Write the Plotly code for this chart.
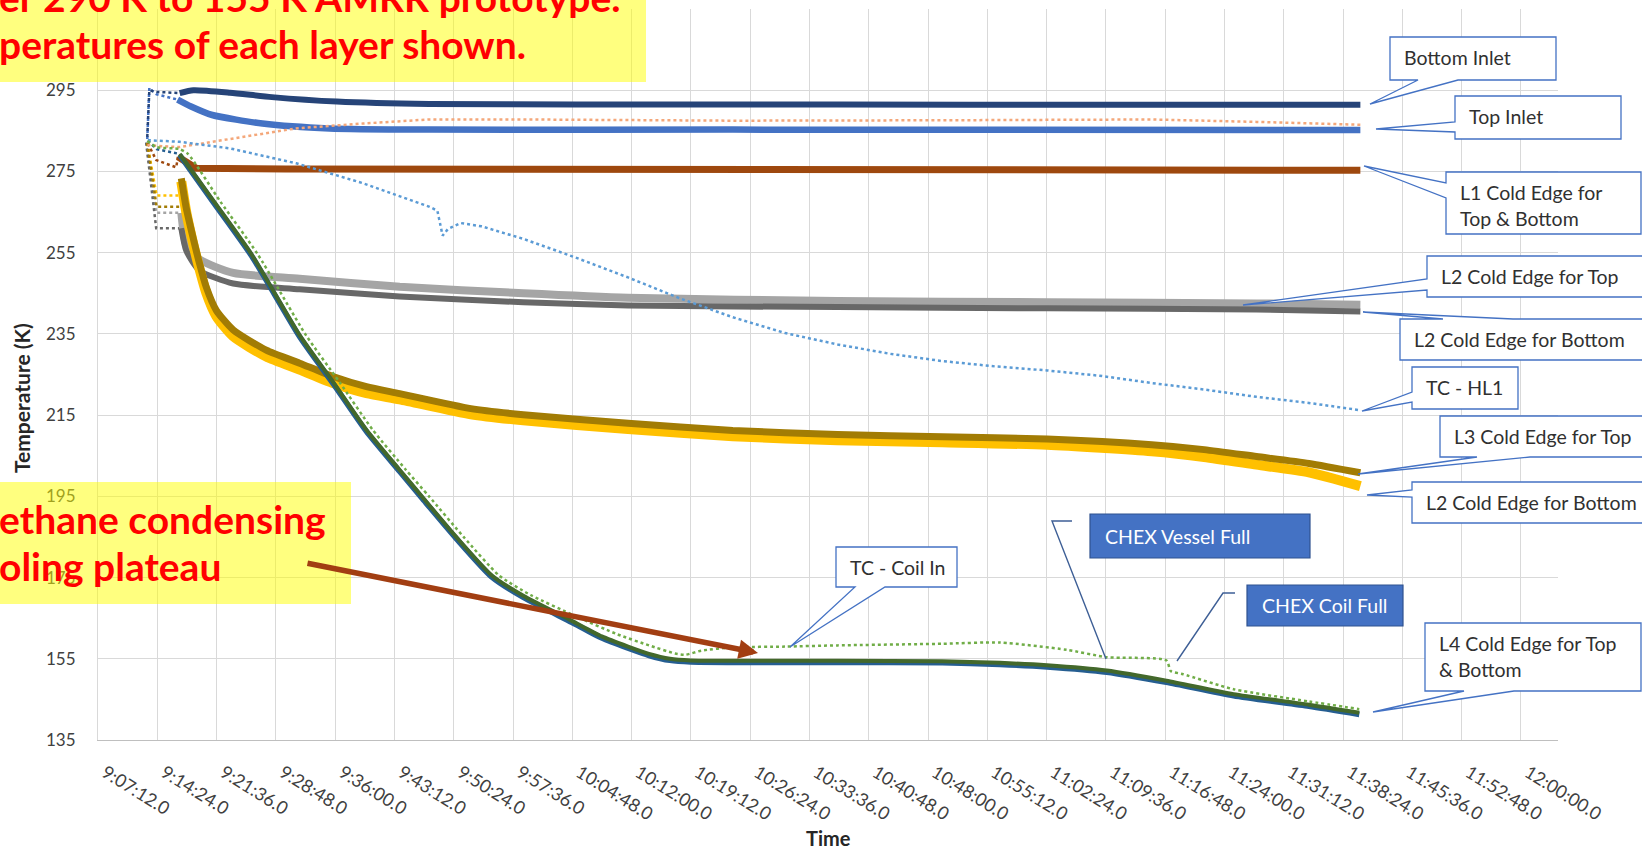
import plotly.graph_objects as go

DAY = "2021-03-01 "

# ---------------- data (time of day, temperature in K) ----------------
bottom_inlet_early_t = ["09:13:11", "09:13:26", "09:13:49", "09:14:19", "09:17:07"]
bottom_inlet_early_v = [283.5, 295.0, 294.8, 294.6, 294.3]
bottom_inlet_t = ["09:17:07", "09:18:47", "09:23:14", "09:28:19", "09:36:12", "09:47:24",
                  "10:05:12", "10:37:01", "11:08:49", "11:40:30"]
bottom_inlet_v = [294.3, 295.0, 294.4, 293.3, 292.2, 291.6, 291.5, 291.5, 291.4, 291.4]

top_inlet_early_t = ["09:13:11", "09:13:26", "09:13:49", "09:14:19", "09:16:52"]
top_inlet_early_v = [283.0, 295.6, 294.8, 294.0, 292.7]
top_inlet_t = ["09:16:52", "09:18:30", "09:21:04", "09:27:10", "09:35:19", "09:47:24",
               "10:24:17", "11:40:30"]
top_inlet_v = [292.7, 291.0, 288.9, 286.8, 285.6, 285.3, 285.3, 285.2]

orange_t = ["09:13:11", "09:14:19", "09:17:07", "09:23:14", "09:31:14", "09:39:23", "09:47:24",
            "09:58:51", "10:24:17", "10:49:44", "11:15:10", "11:27:53", "11:40:30"]
orange_v = [281.5, 281.3, 281.0, 283.0, 285.6, 286.8, 287.8, 287.8, 287.5, 287.6, 287.8, 287.2, 286.5]

l1_early_t = ["09:13:15", "09:14:16", "09:16:42", "09:16:54"]
l1_early_v = [281.9, 277.8, 276.0, 278.6]
l1_t = ["09:16:54", "09:19:08", "09:30:00", "10:30:00", "11:40:30"]
l1_v = [278.6, 275.8, 275.6, 275.4, 275.3]

hl1_t = ["09:13:15", "09:17:06", "09:23:11", "09:31:17", "09:39:23", "09:47:28", "09:48:25",
         "09:49:03", "09:49:41", "09:51:13", "09:53:45", "09:58:51", "10:05:12", "10:11:34",
         "10:17:56", "10:24:17", "10:30:39", "10:37:01", "10:43:22", "10:49:44", "10:56:06",
         "11:02:27", "11:08:49", "11:15:10", "11:21:32", "11:27:53", "11:34:15", "11:40:30"]
hl1_v = [282.7, 282.3, 280.7, 277.0, 272.1, 266.3, 265.3, 259.2, 260.8, 262.3, 261.5, 258.4,
         253.8, 248.9, 243.7, 239.1, 235.2, 232.4, 230.1, 228.3, 227.0, 226.0, 224.7, 222.9,
         221.3, 219.5, 218.0, 216.2]

l2_top_early_t = ["09:13:03", "09:14:16", "09:17:19"]
l2_top_early_v = [282.1, 264.8, 264.8]
l2_top_t = ["09:17:19", "09:17:55", "09:19:32", "09:23:37", "09:31:41", "09:43:50", "09:58:51",
            "10:11:34", "10:37:01", "11:02:27", "11:27:53", "11:40:30"]
l2_top_v = [264.8, 257.0, 253.3, 250.0, 248.6, 246.6, 245.0, 243.9, 243.1, 242.8, 242.5, 242.2]

l2_bot_early_t = ["09:13:03", "09:14:16", "09:17:19"]
l2_bot_early_v = [282.1, 261.0, 261.0]
l2_bot_t = l2_top_t
l2_bot_v = [261.0, 255.5, 250.6, 247.4, 246.0, 244.2, 242.8, 242.0, 241.6, 241.3, 241.0, 240.5]

l3_top_early_t = ["09:13:11", "09:14:19", "09:17:11"]
l3_top_early_v = [282.0, 266.3, 266.3]
l3_bot_early_t = ["09:13:11", "09:14:19", "09:17:11"]
l3_bot_early_v = [282.0, 269.1, 269.1]
l3_t = ["09:17:19", "09:17:55", "09:18:44", "09:19:32", "09:20:21", "09:21:34", "09:23:37",
        "09:27:38", "09:31:41", "09:35:44", "09:39:48", "09:43:50", "09:52:29", "09:58:51",
        "10:11:34", "10:24:17", "10:37:01", "10:49:44", "11:02:27", "11:15:10", "11:21:32",
        "11:27:53", "11:34:15", "11:40:30"]
l3_top_v = [273.3, 266.0, 258.8, 252.3, 246.5, 240.8, 236.0, 231.0, 227.8, 224.5, 222.0, 220.3,
            216.6, 215.1, 213.0, 211.2, 210.2, 209.7, 209.1, 207.7, 206.5, 204.8, 203.1, 200.8]
l3_bot_v = [272.5, 265.0, 257.4, 250.9, 245.1, 239.4, 234.4, 229.4, 226.2, 222.9, 220.4, 218.9,
            215.2, 213.7, 211.6, 209.8, 208.8, 208.3, 207.7, 206.1, 204.7, 202.8, 200.9, 197.5]

l4_early_t = ["09:13:15", "09:14:19", "09:17:07"]
l4_early_v = [282.6, 280.5, 279.3]
l4_t = ["09:17:07", "09:21:19", "09:25:49", "09:31:41", "09:35:44", "09:39:47", "09:43:50",
        "09:46:31", "09:50:42", "09:55:02", "09:58:51", "10:04:42", "10:08:23", "10:11:34",
        "10:14:07", "10:16:39", "10:19:12", "10:24:17", "10:37:01", "10:49:44", "10:56:44",
        "11:02:27", "11:09:42", "11:16:57", "11:25:06", "11:34:15", "11:40:22"]
l4_green_v = [279.3, 267.5, 254.7, 234.7, 223.2, 211.4, 201.5, 195.0, 185.0, 175.5, 170.5,
              164.4, 160.5, 158.0, 156.2, 155.0, 154.6, 154.5, 154.5, 154.4, 154.0, 153.4,
              152.1, 149.6, 146.3, 143.7, 141.7]
l4_blue_v = [279.0, 267.1, 254.3, 234.3, 222.8, 211.0, 201.1, 194.6, 184.6, 175.1, 170.1,
             164.0, 160.1, 157.6, 155.8, 154.6, 154.2, 154.1, 154.1, 154.0, 153.6, 153.0,
             151.7, 149.2, 145.9, 143.3, 141.3]

coil_t = ["09:13:11", "09:14:19", "09:17:07", "09:18:08", "09:22:05", "09:26:34", "09:32:27",
          "09:36:30", "09:40:33", "09:44:36", "09:47:24", "09:51:36", "09:55:55", "09:59:44",
          "10:05:12", "10:10:18", "10:14:07", "10:17:17", "10:18:34", "10:20:28", "10:24:17",
          "10:30:39", "10:37:01", "10:49:44", "10:56:44", "11:04:52", "11:09:42", "11:16:57",
          "11:17:28", "11:18:59", "11:25:06", "11:34:15", "11:40:22"]
coil_v = [282.5, 281.0, 280.5, 279.3, 267.5, 254.7, 234.7, 223.2, 211.4, 201.5, 195.0, 185.0,
          175.5, 170.7, 165.5, 161.0, 158.3, 156.3, 156.0, 157.0, 157.8, 158.0, 158.3, 158.7,
          159.0, 157.2, 155.4, 154.6, 152.0, 151.2, 147.5, 144.5, 142.6]


def T(lst):
    return [DAY + s for s in lst]


# ---------------- page geometry helpers ----------------
W, H = 1642, 851
ML, MR, MT, MB = 98, 84, 9, 111
PW, PH = W - ML - MR, H - MT - MB


def px(x):
    return (x - ML) / PW


def py(y):
    return 1 - (y - MT) / PH


FONT = "Lato, 'Open Sans', sans-serif"

fig = go.Figure()


def band(t, v, color, width, shape="spline"):
    fig.add_trace(go.Scatter(x=T(t), y=v, mode="lines", hoverinfo="skip",
                             line=dict(color=color, width=width, shape=shape, smoothing=0.6)))


def dotted(t, v, color, width=2.5, shape="linear"):
    fig.add_trace(go.Scatter(x=T(t), y=v, mode="lines", hoverinfo="skip",
                             line=dict(color=color, width=width, dash="dot", shape=shape,
                                       smoothing=0.6)))


C_NAVY = "#264478"
C_BLUE = "#4472C4"
C_ORANGE = "#F4A77A"
C_BROWN = "#9E480E"
C_HL1 = "#5B9BD5"
C_LGRAY = "#A5A5A5"
C_DGRAY = "#686868"
C_DGOLD = "#A27C04"
C_GOLD = "#FFC000"
C_L4B = "#255E91"
C_L4G = "#43682B"
C_COIL = "#70AD47"

# early (sparse) segments
dotted(l2_top_early_t, l2_top_early_v, C_LGRAY)
dotted(l2_bot_early_t, l2_bot_early_v, C_DGRAY)
dotted(l3_bot_early_t, l3_bot_early_v, C_GOLD)
dotted(l3_top_early_t, l3_top_early_v, C_DGOLD)
dotted(l1_early_t, l1_early_v, C_BROWN)
dotted(l4_early_t, l4_early_v, C_L4B)
dotted(top_inlet_early_t, top_inlet_early_v, C_BLUE)
dotted(bottom_inlet_early_t, bottom_inlet_early_v, C_NAVY)

# dense bands
band(l2_top_t, l2_top_v, C_LGRAY, 8)
band(l2_bot_t, l2_bot_v, C_DGRAY, 6)
band(l3_t, l3_bot_v, C_GOLD, 10)
band(l3_t, l3_top_v, C_DGOLD, 7)
band(l1_t, l1_v, C_BROWN, 7, "linear")
band(top_inlet_t, top_inlet_v, C_BLUE, 6.5)
band(bottom_inlet_t, bottom_inlet_v, C_NAVY, 6)
band(l4_t, l4_blue_v, C_L4B, 5.5)
band(l4_t, l4_green_v, C_L4G, 4)

# thin dotted sensors
dotted(orange_t, orange_v, C_ORANGE, 2.5)
dotted(hl1_t, hl1_v, C_HL1, 2.5)
dotted(coil_t, coil_v, C_COIL, 2.5, "spline")

shapes = []
annotations = []

# semi-transparent yellow text boxes
for (x0, y0, x1, y1) in [(0, 0, 646, 82), (0, 482, 351, 604)]:
    shapes.append(dict(type="rect", xref="paper", yref="paper", x0=px(x0), x1=px(x1),
                       y0=py(y1), y1=py(y0), fillcolor="rgba(255,255,0,0.5)",
                       line=dict(width=0), layer="above"))

RED_LINES = [("er 290 K to 155 K AMRR prototype.", -3, -3),
             ("peratures of each layer shown.", -3, 44),
             ("ethane condensing", -3, 519),
             ("oling plateau", -3, 566)]
for txt, x, yc in RED_LINES:
    annotations.append(dict(text="<b>" + txt + "</b>", x=px(x), y=py(yc), xref="paper",
                            yref="paper", xanchor="left", yanchor="middle", showarrow=False,
                            font=dict(family=FONT, size=39, color="#FF0000")))

# arrow
annotations.append(dict(text="", x=px(758), y=py(653), xref="paper", yref="paper",
                        ax=306 - 758, ay=563 - 653, axref="pixel", ayref="pixel",
                        showarrow=True, arrowhead=2, arrowsize=0.7, arrowwidth=5.5,
                        arrowcolor="#A23E12", standoff=0))


def P(x, y):
    return "%.5f,%.5f" % (px(x), py(y))


def callout_path(box, side, base, tip):
    x0, y0, x1, y1 = box
    b1, b2 = base
    if side == "bottom":
        pts = [(x0, y0), (x1, y0), (x1, y1), (b2, y1), tip, (b1, y1), (x0, y1)]
    elif side == "left":
        pts = [(x0, y0), (x1, y0), (x1, y1), (x0, y1), (x0, b2), tip, (x0, b1)]
    else:  # top
        pts = [(x0, y0), (b1, y0), tip, (b2, y0), (x1, y0), (x1, y1), (x0, y1)]
    return "M " + " L ".join(P(*p) for p in pts) + " Z"


CALLOUTS = [
    (["Bottom Inlet"], (1390, 37, 1556, 80), "bottom", (1418, 1458), (1370, 104)),
    (["Top Inlet"], (1455, 96, 1621, 139), "left", (122, 132), (1376, 129)),
    (["L1 Cold Edge for", "Top & Bottom"], (1446, 172, 1641, 234), "left", (183, 198), (1364, 166)),
    (["L2 Cold Edge for Top"], (1427, 256, 1652, 297), "left", (279, 290), (1243, 305)),
    (["L2 Cold Edge for Bottom"], (1400, 319, 1652, 360), "top", (1443, 1513), (1363, 312)),
    (["TC - HL1"], (1412, 367, 1518, 409), "left", (392, 402), (1362, 411)),
    (["L3 Cold Edge for Top"], (1440, 416, 1652, 457), "bottom", (1477, 1530), (1358, 474)),
    (["L2 Cold Edge for Bottom"], (1412, 482, 1652, 523), "left", (490, 497), (1367, 495)),
    (["TC - Coil In"], (836, 547, 957, 587), "bottom", (855, 885), (790, 647)),
    (["L4 Cold Edge for Top", "& Bottom"], (1425, 623, 1641, 691), "bottom", (1464, 1514), (1373, 712)),
]

for lines, box, side, base, tip in CALLOUTS:
    shapes.append(dict(type="path", xref="paper", yref="paper",
                       path=callout_path(box, side, base, tip), fillcolor="white",
                       line=dict(color="#4472C4", width=1.3), layer="above"))
    for i, ln in enumerate(lines):
        annotations.append(dict(text=ln, x=px(box[0] + 12), y=py(box[1] + 20 + 26 * i),
                                xref="paper", yref="paper", xanchor="left", yanchor="middle",
                                showarrow=False,
                                font=dict(family=FONT, size=19.5, color="#303030")))

# CHEX markers (filled boxes with leader lines)
CHEX = [("CHEX Vessel Full", (1090, 514, 1310, 558), [(1072, 521), (1052, 521), (1106, 659)]),
        ("CHEX Coil Full", (1247, 585, 1403, 626), [(1235, 593), (1223, 593), (1177, 661)])]
for txt, (x0, y0, x1, y1), lead in CHEX:
    shapes.append(dict(type="path", xref="paper", yref="paper",
                       path="M " + " L ".join(P(*p) for p in lead),
                       line=dict(color="#3E5F96", width=1.4), layer="above"))
    shapes.append(dict(type="rect", xref="paper", yref="paper", x0=px(x0), x1=px(x1),
                       y0=py(y1), y1=py(y0), fillcolor="#4472C4",
                       line=dict(color="#2F528F", width=1.2), layer="above"))
    annotations.append(dict(text=txt, x=px(x0 + 13), y=py((y0 + y1) / 2), xref="paper",
                            yref="paper", xanchor="left", yanchor="middle", showarrow=False,
                            font=dict(family=FONT, size=19.5, color="white")))

# axis titles
annotations.append(dict(text="<b>Temperature (K)</b>", x=px(21), y=py(398), xref="paper",
                        yref="paper", xanchor="center", yanchor="middle", textangle=-90,
                        showarrow=False, font=dict(family=FONT, size=21, color="#262626")))
annotations.append(dict(text="<b>Time</b>", x=px(828), y=py(838), xref="paper",
                        yref="paper", xanchor="center", yanchor="middle", showarrow=False,
                        font=dict(family=FONT, size=20, color="#262626")))

fig.update_layout(
    width=W, height=H, margin=dict(l=ML, r=MR, t=MT, b=MB, pad=0),
    paper_bgcolor="white", plot_bgcolor="white", showlegend=False,
    font=dict(family=FONT, color="#404040"),
    shapes=shapes, annotations=annotations,
    xaxis=dict(type="date", range=[DAY + "09:07:12", DAY + "12:04:30"],
               tickmode="linear", tick0=DAY + "09:07:12", dtick=432000,
               tickformat="%-H:%M:%S.0", tickangle=32,
               tickfont=dict(family=FONT, size=18, color="#404040"),
               showgrid=True, gridcolor="#D9D9D9", gridwidth=1,
               showline=True, linecolor="#BFBFBF", linewidth=1.3,
               zeroline=False, ticks="", ticklabelstandoff=14, ticklabelshift=7),
    yaxis=dict(range=[135, 315], tick0=135, dtick=20, tickmode="linear",
               tickfont=dict(family=FONT, size=17, color="#404040"),
               showgrid=True, gridcolor="#D9D9D9", gridwidth=1,
               showline=True, linecolor="#D9D9D9", zeroline=False,
               ticks="", ticklabelstandoff=18),
)

fig.write_html("out.html", config={"displayModeBar": False},
               post_script="document.body.style.margin='0';")
